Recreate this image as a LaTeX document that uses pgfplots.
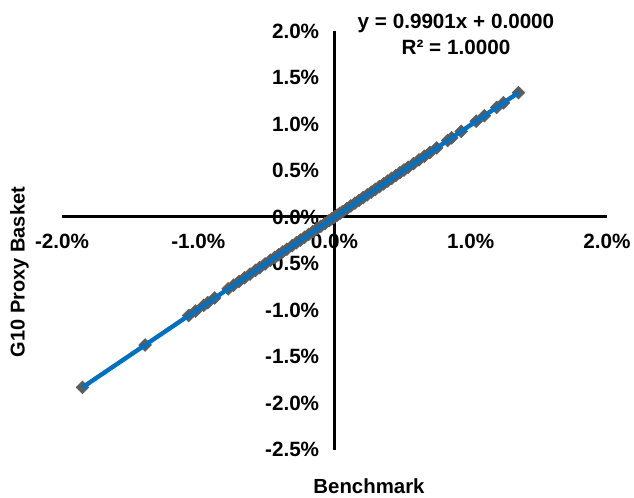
\documentclass[border=0pt]{standalone}
\usepackage{pgfplots}
\pgfplotsset{compat=1.18}
\usepackage{fontspec}
\setmainfont{Liberation Sans}
\definecolor{trend}{RGB}{0,112,192}
\definecolor{mk}{RGB}{92,92,92}
\begin{document}
\begin{tikzpicture}
\begin{axis}[
  set layers=standard,
  at={(0,0)}, anchor=south west,
  scale only axis, width=408.75pt, height=313.9pt,
  xmin=-2, xmax=2, ymin=-2.5, ymax=2,
  axis lines=middle,
  axis line style={line width=2.25pt, -},
  hide obscured x ticks=false, hide obscured y ticks=false,
  major tick length=0pt,
  xtick={-2,-1,0,1,2},
  xticklabels={-2.0\%,-1.0\%,0.0\%,1.0\%,2.0\%},
  ytick={-2.5,-2,-1.5,-1,-0.5,0,0.5,1,1.5,2},
  yticklabels={-2.5\%,-2.0\%,-1.5\%,-1.0\%,-0.5\%,0.0\%,0.5\%,1.0\%,1.5\%,2.0\%},
  ticklabel style={font=\fontsize{15.5}{17}\selectfont\bfseries},
  xticklabel style={anchor=north, yshift=-9pt},
  yticklabel style={anchor=east, xshift=-8pt},
  clip=false,
]
\addplot[only marks, mark=square*, mark size=3.4pt, mark options={rotate=45, fill=mk, draw=mk}] coordinates {
(-1.85,-1.832) (-1.39,-1.376) (-1.07,-1.059) (-1.02,-1.012) (-0.96,-0.950)
(-0.93,-0.921) (-0.88,-0.871) (-0.78,-0.772) (-0.74,-0.733) (-0.70,-0.693)
(-0.66,-0.653) (-0.62,-0.614) (-0.58,-0.574) (-0.55,-0.545) (-0.51,-0.505)
(-0.47,-0.465) (-0.44,-0.436) (-0.41,-0.406) (-0.38,-0.376) (-0.35,-0.347)
(-0.31,-0.307) (-0.28,-0.277) (-0.25,-0.248) (-0.22,-0.218) (-0.19,-0.188)
(-0.16,-0.158) (-0.13,-0.129) (-0.10,-0.099) (-0.07,-0.069) (-0.04,-0.040)
(-0.02,-0.020) (0.00,0.000) (0.02,0.020) (0.04,0.040) (0.06,0.059)
(0.09,0.089) (0.12,0.119) (0.15,0.149) (0.18,0.178) (0.21,0.208)
(0.24,0.238) (0.27,0.267) (0.30,0.297) (0.33,0.327) (0.36,0.356)
(0.39,0.386) (0.42,0.416) (0.45,0.446) (0.48,0.475) (0.51,0.505)
(0.54,0.535) (0.58,0.574) (0.62,0.614) (0.66,0.653) (0.70,0.693)
(0.75,0.743) (0.83,0.822) (0.86,0.851) (0.93,0.921) (1.04,1.030)
(1.10,1.089) (1.19,1.178) (1.24,1.228) (1.35,1.337)
};
\addplot[trend, line width=3.3pt, on layer=axis foreground] coordinates {(-1.85,-1.832) (1.35,1.337)};
\end{axis}
\node[font=\fontsize{15.5}{17}\selectfont\bfseries] at (295.5pt,319.6pt) {y = 0.9901x + 0.0000};
\node[font=\fontsize{15.5}{17}\selectfont\bfseries] at (295.5pt,301.6pt) {R² = 1.0000};
\node[font=\fontsize{15}{17}\selectfont\bfseries, rotate=90] at (-32pt,133.1pt) {G10 Proxy Basket};
\node[font=\fontsize{15.3}{17}\selectfont\bfseries] at (230.25pt,-27.4pt) {Benchmark};
\pgfresetboundingbox
\path (-46.5pt,-35.625pt) rectangle (429pt,337.125pt);
\end{tikzpicture}
\end{document}
